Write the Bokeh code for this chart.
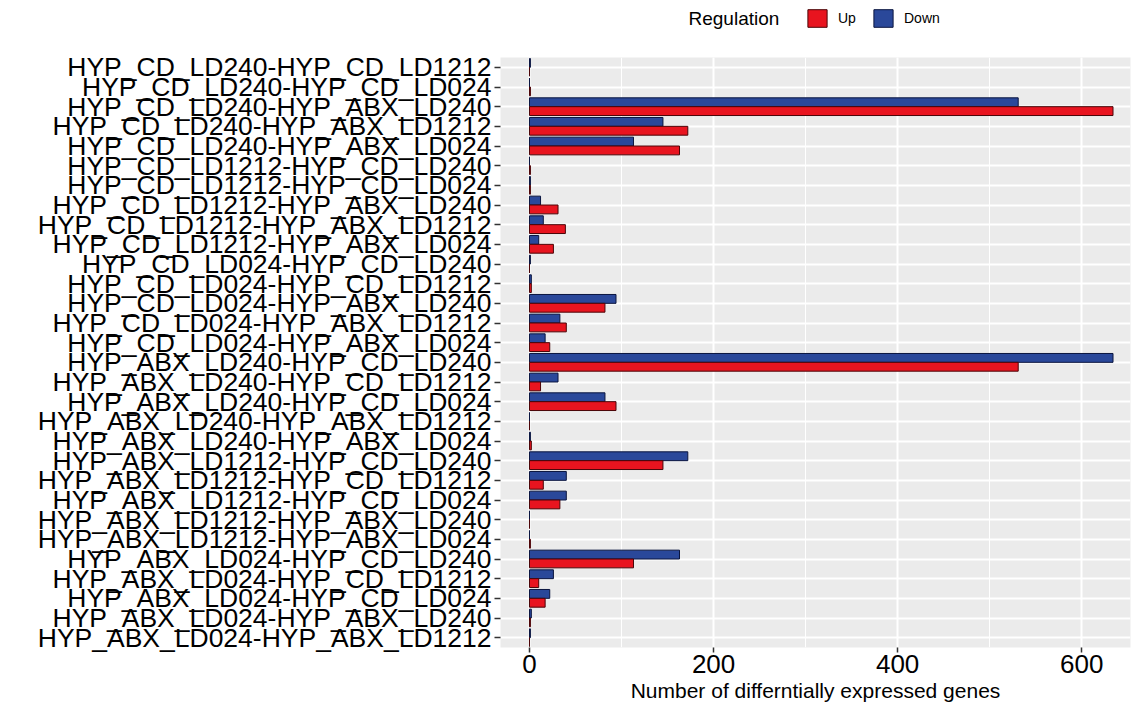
from bokeh.plotting import figure
from bokeh.layouts import column
from bokeh.models import (ColumnDataSource, FactorRange, Range1d, SingleIntervalTicker,
                          Legend, LegendItem)
from bokeh.core.properties import value
from bokeh.transform import dodge
from bokeh.embed import file_html
from bokeh.resources import INLINE

comparisons = [
    "HYP_CD_LD240-HYP_CD_LD1212",
    "HYP_CD_LD240-HYP_CD_LD024",
    "HYP_CD_LD240-HYP_ABX_LD240",
    "HYP_CD_LD240-HYP_ABX_LD1212",
    "HYP_CD_LD240-HYP_ABX_LD024",
    "HYP_CD_LD1212-HYP_CD_LD240",
    "HYP_CD_LD1212-HYP_CD_LD024",
    "HYP_CD_LD1212-HYP_ABX_LD240",
    "HYP_CD_LD1212-HYP_ABX_LD1212",
    "HYP_CD_LD1212-HYP_ABX_LD024",
    "HYP_CD_LD024-HYP_CD_LD240",
    "HYP_CD_LD024-HYP_CD_LD1212",
    "HYP_CD_LD024-HYP_ABX_LD240",
    "HYP_CD_LD024-HYP_ABX_LD1212",
    "HYP_CD_LD024-HYP_ABX_LD024",
    "HYP_ABX_LD240-HYP_CD_LD240",
    "HYP_ABX_LD240-HYP_CD_LD1212",
    "HYP_ABX_LD240-HYP_CD_LD024",
    "HYP_ABX_LD240-HYP_ABX_LD1212",
    "HYP_ABX_LD240-HYP_ABX_LD024",
    "HYP_ABX_LD1212-HYP_CD_LD240",
    "HYP_ABX_LD1212-HYP_CD_LD1212",
    "HYP_ABX_LD1212-HYP_CD_LD024",
    "HYP_ABX_LD1212-HYP_ABX_LD240",
    "HYP_ABX_LD1212-HYP_ABX_LD024",
    "HYP_ABX_LD024-HYP_CD_LD240",
    "HYP_ABX_LD024-HYP_CD_LD1212",
    "HYP_ABX_LD024-HYP_CD_LD024",
    "HYP_ABX_LD024-HYP_ABX_LD240",
    "HYP_ABX_LD024-HYP_ABX_LD1212",
]
up_counts = [0, 1, 634, 172, 163, 1, 1, 31, 39, 26,
             0, 2, 82, 40, 22, 531, 12, 94, 0, 2,
             145, 15, 33, 0, 1, 113, 10, 17, 1, 0]
down_counts = [1, 0, 531, 145, 113, 0, 1, 12, 15, 10,
               1, 2, 94, 33, 17, 634, 31, 82, 0, 1,
               172, 40, 40, 0, 0, 163, 26, 22, 2, 1]
x_ticks = [0, 200, 400, 600]
legend_title = "Regulation"
legend_labels = ["Up", "Down"]

UP_FILL, UP_LINE = "#E8141F", "#4A0508"
DOWN_FILL, DOWN_LINE = "#2A489A", "#0A153F"
FONT = "Liberation Sans"

FRAME_L, FRAME_W, FRAME_R = 500, 630, 3

# ---------------- legend strip (top) ----------------
LEG_H = 45
leg = figure(width=1133, height=LEG_H, frame_width=FRAME_W, frame_height=LEG_H,
             min_border_left=FRAME_L, min_border_right=FRAME_R,
             min_border_top=0, min_border_bottom=0,
             x_range=Range1d(FRAME_L, FRAME_L + FRAME_W), y_range=Range1d(0, LEG_H),
             x_axis_location=None, y_axis_location=None,
             output_backend="svg", toolbar_location=None)
leg.outline_line_color = None
leg.xgrid.visible = False
leg.ygrid.visible = False
leg.text(x=[688], y=[LEG_H - 18], text=[legend_title], text_font=value(FONT),
         text_font_size="19px", text_baseline="middle", text_color="black")
# proxy renderers (placed outside the visible strip) that give the legend its key glyphs
r_up = leg.hbar(y=[-500], left=[0], right=[1], height=1,
                fill_color=UP_FILL, line_color=UP_LINE, line_width=1)
r_down = leg.hbar(y=[-500], left=[0], right=[1], height=1,
                  fill_color=DOWN_FILL, line_color=DOWN_LINE, line_width=1)
legend = Legend(
    items=[LegendItem(label=legend_labels[0], renderers=[r_up]),
           LegendItem(label=legend_labels[1], renderers=[r_down])],
    orientation="horizontal",
    location=(805 - FRAME_L, LEG_H - 29),
    glyph_width=24, glyph_height=22, label_standoff=9, spacing=13,
    padding=0, margin=0, border_line_color=None, background_fill_alpha=0,
    label_text_font=FONT, label_text_font_size="14px", label_text_color="black",
    label_height=22,
)
leg.add_layout(legend, "center")

# ---------------- main chart ----------------
source = ColumnDataSource(dict(cat=comparisons, up=up_counts, down=down_counts))

p = figure(
    width=1133, height=706 - LEG_H,
    frame_width=FRAME_W, frame_height=590,
    min_border_left=FRAME_L, min_border_right=FRAME_R,
    min_border_top=57 - LEG_H, min_border_bottom=59,
    y_range=FactorRange(factors=comparisons[::-1]),
    x_range=Range1d(-31.5, 653),
    output_backend="svg", toolbar_location=None,
    background_fill_color="#EBEBEB", border_fill_color="white",
)
p.outline_line_color = None

down_r = p.hbar(y=dodge("cat", 0.225, range=p.y_range), left=0, right="down", height=0.45,
                source=source, fill_color=DOWN_FILL, line_color=DOWN_LINE, line_width=1)
up_r = p.hbar(y=dodge("cat", -0.225, range=p.y_range), left=0, right="up", height=0.45,
              source=source, fill_color=UP_FILL, line_color=UP_LINE, line_width=1)

# grids
p.xaxis.ticker = x_ticks
p.xgrid.ticker = SingleIntervalTicker(interval=200, num_minor_ticks=2)
p.xgrid.grid_line_color = "white"
p.xgrid.grid_line_width = 2
p.xgrid.minor_grid_line_color = "white"
p.xgrid.minor_grid_line_width = 1
p.ygrid.grid_line_color = "white"
p.ygrid.grid_line_width = 2

# axes
for ax in (p.xaxis, p.yaxis):
    ax.axis_line_color = None
    ax.major_tick_line_color = "#333333"
    ax.major_tick_line_width = 1.5
    ax.major_tick_in = 0
    ax.minor_tick_line_color = None
    ax.major_label_text_color = "black"
    ax.major_label_text_font = FONT

p.yaxis.major_tick_out = 6
p.yaxis.major_label_text_font_size = "26.5px"
p.yaxis.major_label_standoff = 3
p.xaxis.major_tick_out = 5
p.xaxis.major_label_text_font_size = "26px"
p.xaxis.major_label_standoff = 2
p.xaxis.axis_label = "Number of differntially expressed genes"
p.xaxis.axis_label_text_font = FONT
p.xaxis.axis_label_text_font_size = "21px"
p.xaxis.axis_label_text_font_style = "normal"
p.xaxis.axis_label_text_color = "black"
p.xaxis.axis_label_standoff = 3

layout = column(leg, p, spacing=0)
open("out.html", "w").write(file_html(layout, INLINE))
